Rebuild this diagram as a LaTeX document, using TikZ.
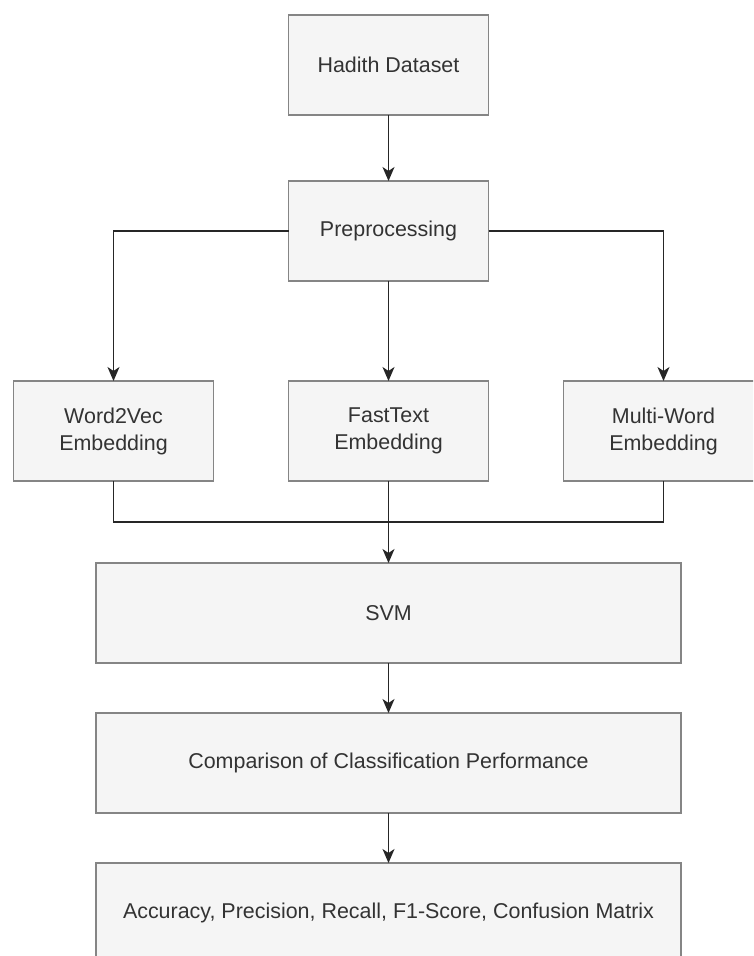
\documentclass[tikz,border=0pt]{standalone}
\usepackage{fontspec}
\setmainfont{Liberation Sans}
\usetikzlibrary{arrows.meta,positioning}
\definecolor{boxfill}{HTML}{F5F5F5}
\definecolor{boxline}{HTML}{858585}
\definecolor{txtC}{HTML}{333333}
\tikzset{
  stage/.style={rectangle, draw=boxline, line width=0.8pt, fill=boxfill, text=txtC,
                align=center, font=\fontsize{12.2}{15.4}\selectfont,
                minimum width=#1, minimum height=2cm, inner sep=0pt, outer sep=0pt},
  stage/.default=4cm,
  arr/.style={-{Stealth[length=2.8mm,width=2.4mm,inset=0.8mm]}, line width=0.7pt, draw=black!85},
  link/.style={line width=0.7pt, draw=black!85},
}

\begin{document}
\begin{tikzpicture}[node distance=1.5cm]
  \clip (0,0) rectangle (15.06,-19.12);
  \node[stage] (hadith) at (7.77,-1.3) {Hadith Dataset};
  \node[stage, below=1.32cm of hadith] (prep) {Preprocessing};
  \node[stage, below=2cm of prep] (fast) {FastText\\Embedding};
  \node[stage, left=of fast] (w2v) {Word2Vec\\Embedding};
  \node[stage, right=of fast] (multi) {Multi-Word\\Embedding};
  \node[stage=11.7cm, below=1.64cm of fast] (svm) {SVM};
  \node[stage=11.7cm, below=1cm of svm] (comp) {Comparison of Classification Performance};
  \node[stage=11.7cm, below=1cm of comp] (metrics)
    {Accuracy, Precision, Recall, F1-Score, Confusion Matrix};

  % split after preprocessing
  \draw[arr] (hadith) -- (prep);
  \draw[arr] (prep) -- (fast);
  \draw[arr] (prep.west) -| (w2v.north);
  \draw[arr] (prep.east) -| (multi.north);

  % merge into the classifier
  \path (fast.south) -- (svm.north) coordinate[pos=0.5] (merge);
  \draw[link] (w2v.south) |- (merge) -| (multi.south);
  \draw[arr] (fast) -- (svm);
  \draw[arr] (svm) -- (comp);
  \draw[arr] (comp) -- (metrics);
\end{tikzpicture}
\end{document}
